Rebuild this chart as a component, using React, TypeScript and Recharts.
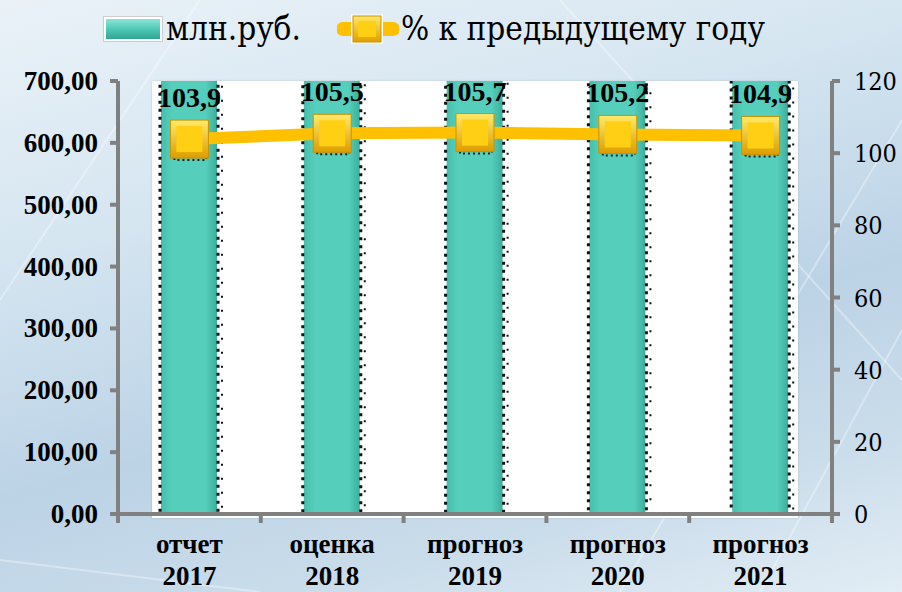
import {
  ComposedChart,
  Bar,
  Line,
  XAxis,
  YAxis,
  LabelList,
} from 'recharts';

const CAT_TOP = ['отчет', 'оценка', 'прогноз', 'прогноз', 'прогноз'];
const CAT_YEAR = ['2017', '2018', '2019', '2020', '2021'];
// млн.руб. — bars run past the 700 ceiling, so these are estimates
const AMOUNTS = [720, 745, 770, 800, 830];
// % к предыдущему году
const GROWTH = [103.9, 105.5, 105.7, 105.2, 104.9];
const LEFT_TICKS = [0, 100, 200, 300, 400, 500, 600, 700];
const RIGHT_TICKS = [0, 20, 40, 60, 80, 100, 120];

const W = 902;
const H = 592;
const LEFT_W = 118;
const RIGHT_W = 70;
const BAND = (W - LEFT_W - RIGHT_W) / CAT_TOP.length;
const FONT = "'Liberation Serif', serif";
const FONT_REG = "'DejaVu Serif Condensed', 'DejaVu Serif', serif";
const AXIS_GRAY = '#808080';

const data = CAT_TOP.map((c, i) => ({
  name: `${c} ${CAT_YEAR[i]}`,
  amount: AMOUNTS[i],
  growth: GROWTH[i],
}));

const fmtComma = (v: number, d: number) => v.toFixed(d).replace('.', ',');

const XTick = (p: any) => {
  const { x, y, index } = p;
  const last = index === CAT_TOP.length - 1;
  return (
    <g>
      <line x1={x - BAND / 2} x2={x - BAND / 2} y1={y} y2={y + 9} stroke={AXIS_GRAY} strokeWidth={4} />
      {last && <line x1={x + BAND / 2} x2={x + BAND / 2} y1={y} y2={y + 9} stroke={AXIS_GRAY} strokeWidth={4} />}
      <text x={x} y={y + 39} textAnchor="middle" fontFamily={FONT} fontWeight="bold" fontSize={27} fill="#000">
        {CAT_TOP[index]}
      </text>
      <text x={x} y={y + 71} textAnchor="middle" fontFamily={FONT} fontWeight="bold" fontSize={27} fill="#000">
        {CAT_YEAR[index]}
      </text>
    </g>
  );
};

const LeftTick = (p: any) => (
  <text x={p.x - 12} y={p.y + 9} textAnchor="end" fontFamily={FONT} fontWeight="bold" fontSize={27} fill="#000">
    {fmtComma(p.payload.value, 2)}
  </text>
);

const RightTick = (p: any) => (
  <text x={p.x + 14} y={p.y + 9} textAnchor="start" fontFamily={FONT_REG} fontStretch="condensed" fontSize={25} fill="#000">
    {p.payload.value}
  </text>
);

const DottedBar = (p: any) => {
  const { x, y, width, height } = p;
  if (width == null || height == null) return null;
  return (
    <g>
      <rect x={x} y={y} width={width} height={height} fill="url(#barGrad)" />
      <line x1={x - 1} x2={x - 1} y1={y} y2={y + height} stroke="#111" strokeWidth={3} strokeDasharray="3 5" />
      <line x1={x + width + 1} x2={x + width + 1} y1={y} y2={y + height} stroke="#111" strokeWidth={3} strokeDasharray="3 5" />
      <line x1={x + width + 5} x2={x + width + 5} y1={y + 3} y2={y + height} stroke="#111" strokeWidth={2} strokeDasharray="2 12" />
    </g>
  );
};

const SquareDot = (p: any) => {
  const { cx, cy } = p;
  if (cx == null || cy == null) return null;
  return (
    <g>
      <rect x={cx - 15} y={cy + 15} width={32} height={6} fill="none" stroke="#222" strokeWidth={2} strokeDasharray="2 3" />
      <rect x={cx - 19} y={cy - 19} width={38} height={38} fill="url(#sqGrad)" stroke="#c99200" strokeWidth={1} />
      <rect x={cx - 13} y={cy - 13} width={26} height={26} fill="#ffcf14" />
    </g>
  );
};

const GrowthLabel = (p: any) => {
  const { x, y, value } = p;
  if (x == null || y == null) return null;
  return (
    <text x={x} y={y - 32} textAnchor="middle" fontFamily={FONT} fontWeight="bold" fontSize={28} fill="#000">
      {fmtComma(value, 1)}
    </text>
  );
};

const Legend = () => (
  <div
    style={{
      position: 'absolute',
      left: 103,
      top: 9,
      display: 'flex',
      alignItems: 'center',
      fontFamily: FONT_REG,
      fontStretch: 'condensed',
      fontSize: 33,
      color: '#000',
      whiteSpace: 'nowrap',
    }}
  >
    <svg width={60} height={26} style={{ marginRight: 3 }}>
      <defs>
        <linearGradient id="legBar" x1="0" y1="0" x2="0" y2="1">
          <stop offset="0" stopColor="#8de3d6" />
          <stop offset="0.5" stopColor="#4ecab7" />
          <stop offset="1" stopColor="#2fa592" />
        </linearGradient>
      </defs>
      <rect x={0.5} y={0.5} width={59} height={25} fill="#fff" stroke="#ccc" />
      <rect x={3} y={3} width={54} height={20} fill="url(#legBar)" />
    </svg>
    <span>млн.руб.</span>
    <svg width={62} height={30} style={{ marginLeft: 36, marginRight: 2 }}>
      <line x1={6} x2={56} y1={15} y2={15} stroke="#ffc000" strokeWidth={14} strokeLinecap="round" />
      <rect x={14} y={0.5} width={32} height={29} fill="#fff" />
      <rect x={16} y={2} width={28} height={26} fill="url(#sqGradL)" stroke="#c99200" />
      <rect x={21} y={7} width={18} height={16} fill="#ffcf14" />
      <defs>
        <linearGradient id="sqGradL" x1="0" y1="0" x2="0" y2="1">
          <stop offset="0" stopColor="#ffe866" />
          <stop offset="1" stopColor="#e0a000" />
        </linearGradient>
      </defs>
    </svg>
    <span>% к предыдущему году</span>
  </div>
);

export default function App() {
  return (
    <div
      style={{
        position: 'absolute',
        left: 0,
        top: 0,
        width: W,
        height: H,
        overflow: 'hidden',
        background:
          'linear-gradient(165deg, #eaf2f8 0%, #d6e6f1 30%, #bcd3e6 60%, #c9dcea 80%, #e2edf5 100%)',
      }}
    >
      <svg width={W} height={H} style={{ position: 'absolute', left: 0, top: 0 }}>
        <g stroke="#ffffff" strokeOpacity={0.35} strokeWidth={2} fill="none">
          <path d="M0 300 L200 0" />
          <path d="M560 0 L902 380" />
          <path d="M620 592 L902 120" />
          <path d="M0 560 L260 592" />
          <path d="M760 592 L902 330" />
        </g>
      </svg>
      <div
        style={{
          position: 'absolute',
          left: 152,
          top: 81,
          width: 646,
          height: 437,
          background: '#fff',
          boxShadow: '0 0 2px rgba(0,0,0,0.15)',
        }}
      />
      <Legend />
      <div style={{ position: 'absolute', left: 0, top: 0 }}>
        <ComposedChart
          width={W}
          height={H}
          data={data}
          margin={{ top: 81, right: 0, left: 0, bottom: 0 }}
          barSize={56}
        >
          <defs>
            <linearGradient id="barGrad" x1="0" y1="0" x2="1" y2="0">
              <stop offset="0" stopColor="#45bfac" />
              <stop offset="0.2" stopColor="#56cebc" />
              <stop offset="0.8" stopColor="#56cebc" />
              <stop offset="1" stopColor="#3aae9b" />
            </linearGradient>
            <linearGradient id="sqGrad" x1="0" y1="0" x2="0" y2="1">
              <stop offset="0" stopColor="#ffea6a" />
              <stop offset="1" stopColor="#dd9d00" />
            </linearGradient>
          </defs>
          <XAxis
            dataKey="name"
            height={H - 514}
            tick={<XTick />}
            tickLine={false}
            tickSize={0}
            tickMargin={0}
            interval={0}
            axisLine={{ stroke: AXIS_GRAY, strokeWidth: 4 }}
          />
          <YAxis
            yAxisId="left"
            width={LEFT_W}
            domain={[0, 700]}
            ticks={LEFT_TICKS}
            allowDataOverflow
            tick={<LeftTick />}
            tickSize={8}
            tickMargin={0}
            tickLine={{ stroke: AXIS_GRAY, strokeWidth: 4 }}
            axisLine={{ stroke: AXIS_GRAY, strokeWidth: 4 }}
          />
          <YAxis
            yAxisId="right"
            orientation="right"
            width={RIGHT_W}
            domain={[0, 120]}
            ticks={RIGHT_TICKS}
            tick={<RightTick />}
            tickSize={8}
            tickMargin={0}
            tickLine={{ stroke: AXIS_GRAY, strokeWidth: 4 }}
            axisLine={{ stroke: AXIS_GRAY, strokeWidth: 4 }}
          />
          <Bar
            yAxisId="left"
            dataKey="amount"
            shape={<DottedBar />}
            isAnimationActive={false}
          />
          <Line
            yAxisId="right"
            dataKey="growth"
            type="linear"
            stroke="#ffc000"
            strokeWidth={12}
            dot={<SquareDot />}
            activeDot={false}
            isAnimationActive={false}
          >
            <LabelList dataKey="growth" content={<GrowthLabel />} />
          </Line>
        </ComposedChart>
      </div>
    </div>
  );
}
